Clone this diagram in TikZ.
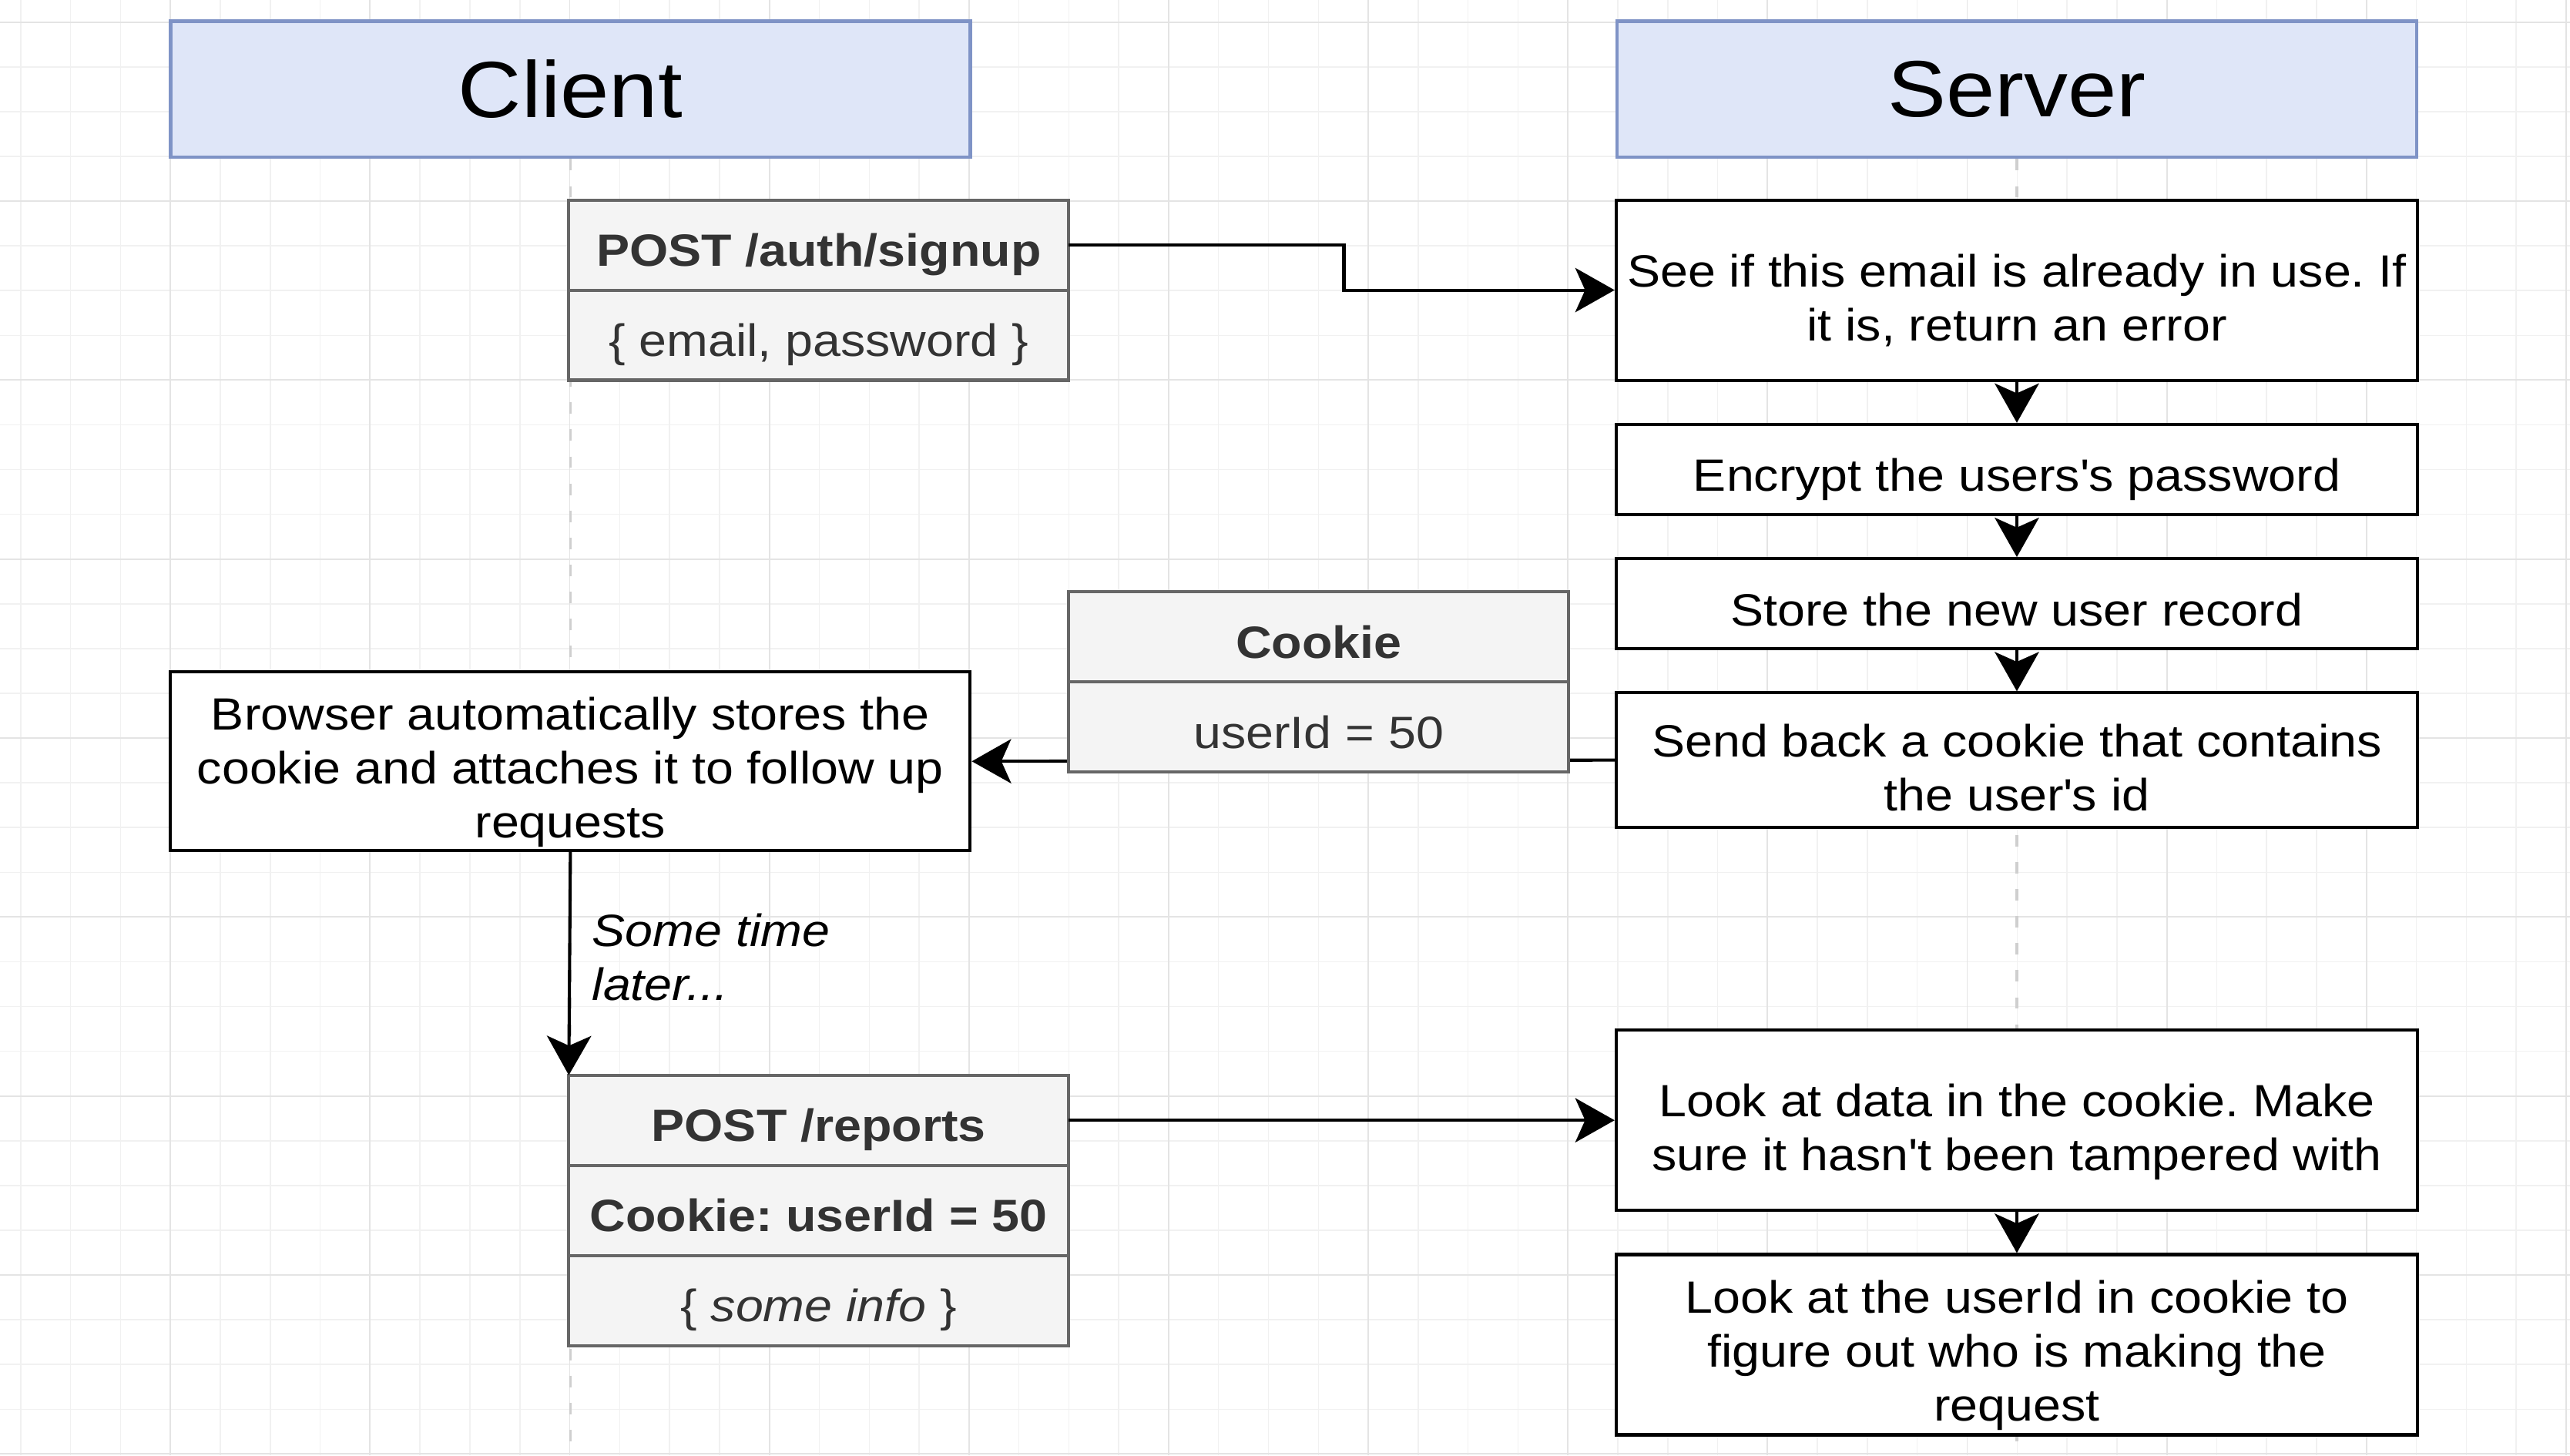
\documentclass[tikz,border=0pt]{standalone}
\usepackage{fontspec}
\setmainfont{Liberation Sans}[FakeStretch=1.1]
\usepackage{xcolor}
\usepackage{tikz}
\usetikzlibrary{arrows.meta, positioning}

\definecolor{hdrfill}{HTML}{DFE6F8}
\definecolor{hdrline}{HTML}{7F93C6}
\definecolor{reqfill}{HTML}{F4F4F4}
\definecolor{reqline}{HTML}{666666}
\definecolor{reqtext}{HTML}{333333}
\definecolor{gridminor}{HTML}{F1F1F1}
\definecolor{gridmajor}{HTML}{E4E4E4}
\definecolor{lifegray}{HTML}{CFCFCF}

\newcommand{\bodyfont}{\fontsize{15.7}{18.8}\selectfont}
\newcommand{\headfont}{\fontsize{27.7}{33}\selectfont}
\frenchspacing

\begin{document}
\begin{tikzpicture}[
  x=0.02cm, y=-0.02cm,
  node distance=0.5cm,
  lane/.style={draw=hdrline, line width=1.2pt, fill=hdrfill, minimum width=9.76cm, minimum height=1.66cm, font=\headfont},
  stepbox/.style={draw, line width=1.1pt, fill=white, align=center, minimum width=9.78cm, font=\bodyfont, text height=18.6pt, text depth=3.3pt},
  twolines/.style={text height=38.5pt, text depth=3.3pt, inner ysep=0pt},
  threelines/.style={text height=56.5pt, text depth=3.3pt, inner ysep=0pt},
  row/.style={draw=reqline, line width=1.1pt, fill=reqfill, text=reqtext, minimum width=6.1cm, minimum height=1.1cm, outer sep=0pt, font=\bodyfont, text height=18pt, text depth=3.3pt},
  rowhead/.style={row, font=\bodyfont\bfseries},
  arr/.style={-{Stealth[length=0.48cm, width=0.54cm, inset=0.12cm]}, line width=1.1pt},
  lifeline/.style={draw=lifegray, line width=1pt, dash pattern=on 0.14cm off 0.19cm}
]
\useasboundingbox (0,0) rectangle (1568,888);
\foreach \k in {0,...,51} \draw[gridminor, line width=0.4pt] ({12.65+30.45*\k},0) -- ++(0,888);
\foreach \k in {0,...,32} \draw[gridminor, line width=0.4pt] (0,{13.5+27.3*\k}) -- ++(1568,0);
\foreach \k in {0,...,12} \draw[gridmajor, line width=0.5pt] ({104+121.8*\k},0) -- ++(0,888);
\foreach \k in {0,...,8} \draw[gridmajor, line width=0.5pt] (0,{13.5+109.2*\k}) -- ++(1568,0);

\node[lane] (client) at (348,54.5) {Client};
\node[lane] (server) at (1230.5,54.5) {Server};
\coordinate (clientend) at (348,888);
\coordinate (serverend) at (1230.5,888);
\draw[lifeline] (client) -- (clientend);
\draw[lifeline] (server) -- (serverend);

\node[rowhead] (sighead) at (499.5,149.5) {POST /auth/signup};
\node[row, below=0pt of sighead] (sigbody) {\{ email, password \}};

\node[stepbox, twolines, minimum height=2.2cm] (check) at (1230.5,177) {See if this email is already in use. If\\it is, return an error};
\node[stepbox, minimum height=1.1cm, below=of check] (encrypt) {Encrypt the users\textquotesingle s password};
\node[stepbox, minimum height=1.1cm, below=of encrypt] (store) {Store the new user record};
\node[stepbox, twolines, minimum height=1.64cm, below=of store] (sendback) {Send back a cookie that contains\\the user\textquotesingle s id};

\node[stepbox, threelines, minimum width=9.76cm, minimum height=2.18cm] (browser) at (348,464.5) {Browser automatically stores the\\cookie and attaches it to follow up\\requests};

\draw[arr] (sendback.west) -- (browser.east);

\node[rowhead] (cookhead) at (804.5,388.5) {Cookie};
\node[row, below=0pt of cookhead] (cookbody) {userId = 50};

\node[rowhead] (rephead) at (499.5,683.5) {POST /reports};
\node[rowhead, below=0pt of rephead] (repcookie) {Cookie: userId = 50};
\node[row, below=0pt of repcookie] (repbody) {\{ \textit{some info} \}};

\node[stepbox, twolines, minimum height=2.2cm] (verify) at (1230.5,683.5) {Look at data in the cookie. Make\\sure it hasn\textquotesingle t been tampered with};
\node[stepbox, threelines, minimum height=2.2cm, below=of verify] (identify) {Look at the userId in cookie to\\figure out who is making the\\request};

\draw[arr] (sighead.east) -- ++(168,0) |- (check.west);
\draw[arr] (check) -- (encrypt);
\draw[arr] (encrypt) -- (store);
\draw[arr] (store) -- (sendback);
\draw[arr] (browser.south) -- node[right, align=left, font=\bodyfont\itshape, xshift=0.14cm, yshift=0.08cm] {Some time\\later...} (rephead.north west);
\draw[arr] (rephead.east) -- (verify.west);
\draw[arr] (verify) -- (identify);
\end{tikzpicture}
\end{document}
